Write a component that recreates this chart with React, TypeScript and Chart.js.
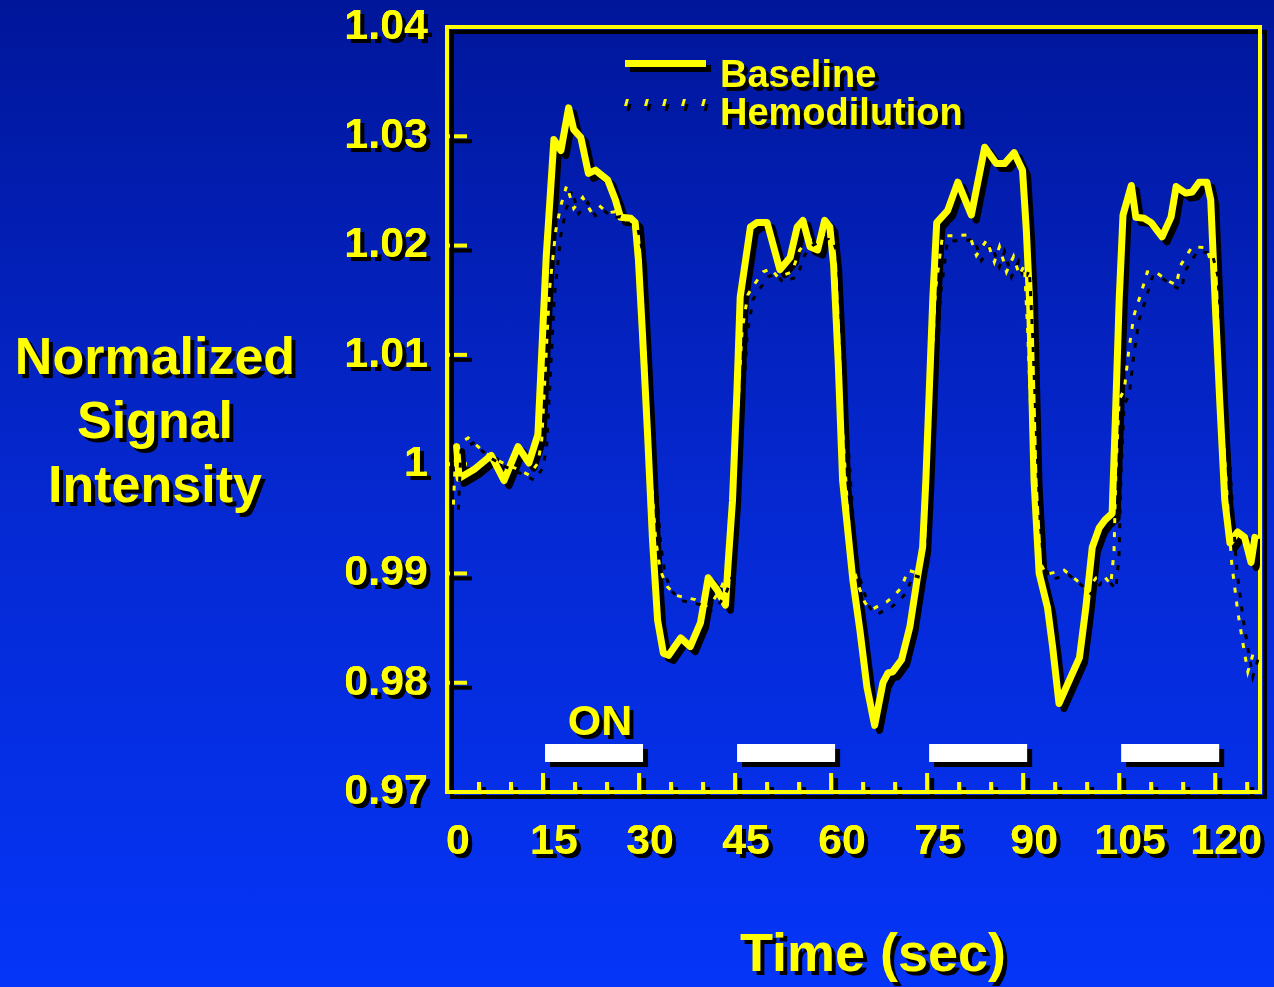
import React, { useEffect, useRef } from 'react';
import { Chart, registerables } from 'chart.js';

Chart.register(...registerables);

// ---------- data ----------
const baselineTime = [
  1.5, 1.9, 4.2, 6.9, 8.9, 11.1, 12.8, 14.2, 15.5, 16.7, 17.8, 19.0, 19.8, 20.9, 22.1, 23.2, 25.1, 26.3, 27.1, 28.7,
  29.4, 29.9, 30.5, 31.3, 32.1, 32.9, 33.8, 34.6, 36.5, 38.0, 39.6, 40.8, 42.2, 43.5, 43.9, 44.6, 45.3, 45.8, 47.4,
  48.4, 50.0, 52.0, 53.6, 54.7, 55.6, 56.7, 57.9, 59.0, 59.8, 60.4, 61.1, 61.8, 63.4, 64.5, 65.6, 66.8, 68.1, 68.9,
  69.6, 71.0, 72.3, 73.5, 74.3, 74.8, 75.4, 75.9, 76.5, 78.2, 79.8, 81.9, 84.0, 85.8, 87.1, 88.6, 89.9, 90.5, 91.0,
  91.7, 92.5, 93.8, 94.6, 95.6, 97.2, 98.8, 99.8, 100.8, 101.9, 102.8, 103.9, 104.4, 105.0, 105.6, 106.9, 107.6,
  108.9, 110.0, 111.7, 113.1, 113.9, 115.4, 116.4, 117.5, 118.7, 119.3, 120.1, 120.7, 121.5, 122.3, 123.5, 124.6,
  125.6, 126.2,
];
const baselineValue = [
  1.0016, 0.9987, 0.9995, 1.0008, 0.9985, 1.0016, 1.0001, 1.0027, 1.019, 1.0297, 1.0287, 1.0326, 1.0306, 1.0299,
  1.0266, 1.0269, 1.026, 1.0242, 1.0226, 1.0225, 1.0221, 1.0187, 1.0123, 1.0031, 0.9931, 0.9857, 0.9827, 0.9825,
  0.9841, 0.9833, 0.9855, 0.9896, 0.9885, 0.9871, 0.9908, 0.9967, 1.0068, 1.0153, 1.0217, 1.0221, 1.0221, 1.0178,
  1.0189, 1.0217, 1.0223, 1.0199, 1.0196, 1.0223, 1.0217, 1.0182, 1.0095, 0.9985, 0.9894, 0.9848, 0.9796, 0.9761,
  0.98, 0.9809, 0.981, 0.9821, 0.9851, 0.9897, 0.9924, 0.9985, 1.0077, 1.0153, 1.0221, 1.0232, 1.0258, 1.0228,
  1.029, 1.0275, 1.0275, 1.0285, 1.0269, 1.0214, 1.015, 0.9985, 0.99, 0.9869, 0.9833, 0.9781, 0.9802, 0.9823,
  0.9869, 0.9924, 0.9942, 0.9949, 0.9955, 1.004, 1.015, 1.0228, 1.0255, 1.0226, 1.0225, 1.0221, 1.0208, 1.0226,
  1.0254, 1.0248, 1.0249, 1.0258, 1.0258, 1.0242, 1.0135, 1.0059, 0.9967, 0.9928, 0.9938, 0.9933, 0.991, 0.9933,
];

const hemoTime = [
  1.0, 1.4, 3.3, 5.8, 8.4, 10.8, 12.8, 14.2, 14.8, 16.0, 17.0, 17.8, 18.7, 19.8, 21.2, 22.4, 23.7, 25.1, 26.3, 27.4,
  29.0, 29.9, 31.0, 31.8, 32.6, 33.3, 34.4, 35.7, 37.2, 38.8, 40.3, 41.4, 42.7, 43.9, 44.7, 45.5, 46.1, 47.0, 47.7,
  49.4, 50.6, 51.7, 53.9, 55.1, 56.4, 57.5, 59.4, 60.3, 60.9, 61.7, 62.5, 63.2, 64.2, 65.3, 66.4, 67.6, 68.7, 69.9,
  71.0, 72.0, 73.1, 74.1, 74.9, 75.7, 76.3, 77.4, 79.6, 81.6, 82.7, 84.3, 85.5, 86.3, 87.4, 88.5, 89.4, 90.2, 90.7,
  91.3, 91.9, 92.5, 93.6, 94.9, 96.4, 98.3, 100.0, 101.4, 102.7, 103.7, 104.2, 104.5, 105.0, 105.8, 106.5, 107.3,
  108.4, 109.4, 110.9, 112.5, 113.9, 114.6, 116.4, 118.7, 119.6, 120.3, 120.9, 121.5, 122.1, 122.6, 123.1, 123.5,
  124.0, 124.5, 125.1, 125.9, 126.3,
];
const hemoValue = [
  0.9963, 1.0017, 1.0024, 1.0011, 1.0002, 0.9996, 0.999, 1.0001, 1.0022, 1.0159, 1.0214, 1.0237, 1.0255, 1.0234,
  1.0244, 1.0232, 1.0237, 1.023, 1.0231, 1.0225, 1.0221, 1.0196, 1.0095, 0.9995, 0.9931, 0.9903, 0.9888, 0.988,
  0.9878, 0.9876, 0.987, 0.9874, 0.9885, 0.9903, 0.9967, 1.0059, 1.0123, 1.0155, 1.0162, 1.0176, 1.0179, 1.0171,
  1.0176, 1.0196, 1.0205, 1.0208, 1.0211, 1.0196, 1.0123, 1.004, 0.9967, 0.9912, 0.989, 0.9873, 0.9867, 0.9871,
  0.9874, 0.988, 0.9887, 0.9903, 0.9901, 0.9908, 0.9985, 1.0086, 1.0159, 1.0209, 1.0209, 1.021, 1.0191, 1.0205,
  1.0185, 1.0199, 1.0176, 1.019, 1.0173, 1.0182, 1.0123, 1.0031, 0.9949, 0.9912, 0.9899, 0.9901, 0.9903, 0.9894,
  0.9885, 0.9896, 0.9897, 0.989, 0.9921, 0.9995, 1.0059, 1.0068, 1.0104, 1.0136, 1.0156, 1.0176, 1.0175, 1.0168,
  1.0164, 1.0182, 1.0199, 1.0198, 1.0178, 1.0123, 1.0059, 1.0004, 0.9949, 0.9908, 0.9885, 0.9866, 0.9848, 0.983,
  0.981, 0.9826, 0.983,
];

const onStart = [15, 45, 75, 105];
const onEnd = [30, 60, 90, 120];

const xMin = 0;
const xMax = 127;
const xStep = 5;
const xLabelEvery = 15;
const yMin = 0.97;
const yMax = 1.04;
const yStep = 0.01;

const seriesNames = ['Baseline', 'Hemodilution'];
const yTitleLines = ['Normalized', 'Signal', 'Intensity'];
const xTitle = 'Time (sec)';
const onLabel = 'ON';

// ---------- styles ----------
const YELLOW = '#ffff00';
const FONT = "'Liberation Sans', Arial, Helvetica, sans-serif";
const TEXT_SHADOW = '4px 4px 0 #000';

const setShadow = (ctx: CanvasRenderingContext2D, d: number) => {
  ctx.shadowColor = '#000000';
  ctx.shadowBlur = 0;
  ctx.shadowOffsetX = d;
  ctx.shadowOffsetY = d;
};

const decorPlugin = {
  id: 'decor',
  beforeDraw(chart: any) {
    const ctx = chart.ctx;
    ctx.save();
    setShadow(ctx, 4);
  },
  beforeDatasetsDraw(chart: any) {
    const { ctx, chartArea: a, scales } = chart;
    const xs = scales.x;
    const ys = scales.y;
    // tick labels again with a hard shadow (library's own label drawing)
    ctx.save();
    setShadow(ctx, 4);
    xs.drawLabels(a);
    ys.drawLabels(a);
    ctx.restore();

    ctx.save();
    setShadow(ctx, 5);
    ctx.strokeStyle = YELLOW;
    ctx.lineWidth = 4;
    ctx.lineCap = 'butt';
    const line = (x0: number, y0: number, x1: number, y1: number) => {
      ctx.beginPath();
      ctx.moveTo(x0, y0);
      ctx.lineTo(x1, y1);
      ctx.stroke();
    };
    xs.ticks.forEach((t: any) => {
      if (t.value <= xs.min || t.value >= xs.max) return;
      const px = xs.getPixelForValue(t.value);
      const len = t.value % xLabelEvery === 0 ? 19 : 10;
      line(px, a.bottom, px, a.bottom - len);
    });
    ys.ticks.forEach((t: any) => {
      if (t.value <= ys.min + 1e-9 || t.value >= ys.max - 1e-9) return;
      const py = ys.getPixelForValue(t.value);
      line(a.left, py, a.left + 20, py);
    });
    ctx.strokeRect(a.left, a.top, a.right - a.left, a.bottom - a.top);
    ctx.fillStyle = '#ffffff';
    onStart.forEach((s, i) => {
      const x0 = xs.getPixelForValue(s) + 2;
      const x1 = xs.getPixelForValue(onEnd[i]) + 4;
      ctx.fillRect(x0, a.bottom - 48, x1 - x0, 18);
    });
    ctx.restore();
    setShadow(ctx, 5);
  },
  afterDraw(chart: any) {
    chart.ctx.restore();
  },
};

export default function App() {
  const ref = useRef<HTMLCanvasElement>(null);

  useEffect(() => {
    const canvas = ref.current;
    if (!canvas) return;
    const chart = new Chart(canvas, {
      type: 'line',
      data: {
        datasets: [
          {
            label: seriesNames[1],
            data: hemoTime.map((t, i) => ({ x: t, y: hemoValue[i] })),
            borderColor: YELLOW,
            borderWidth: 3,
            borderDash: [5, 9],
            pointRadius: 0,
            tension: 0,
            order: 0,
          },
          {
            label: seriesNames[0],
            data: baselineTime.map((t, i) => ({ x: t, y: baselineValue[i] })),
            borderColor: YELLOW,
            borderWidth: 7,
            borderJoinStyle: 'round',
            borderCapStyle: 'round',
            pointRadius: 0,
            tension: 0,
            order: 1,
          },
        ],
      },
      options: {
        animation: false,
        responsive: false,
        devicePixelRatio: 1,
        layout: { padding: { left: 0, right: 14, top: 27, bottom: 0 } },
        plugins: { legend: { display: false }, tooltip: { enabled: false }, title: { display: false } },
        scales: {
          x: {
            type: 'linear',
            min: xMin,
            max: xMax,
            grid: { display: false, drawTicks: false },
            border: { display: false },
            afterFit: (s: any) => {
              s.height = 195;
              s.paddingLeft = 0;
              s.paddingRight = 0;
            },
            ticks: {
              stepSize: xStep,
              includeBounds: false,
              autoSkip: false,
              maxRotation: 0,
              minRotation: 0,
              padding: 24,
              labelOffset: 11,
              color: YELLOW,
              font: { family: FONT, size: 43, weight: 'bold' },
              callback: (v: any) => (Number(v) % xLabelEvery === 0 ? String(v) : ''),
            },
          },
          y: {
            type: 'linear',
            min: yMin,
            max: yMax,
            grid: { display: false, drawTicks: false },
            border: { display: false },
            afterFit: (s: any) => {
              s.width = 447;
              s.paddingTop = 0;
              s.paddingBottom = 0;
            },
            ticks: {
              stepSize: yStep,
              padding: 19,
              color: YELLOW,
              font: { family: FONT, size: 43, weight: 'bold' },
              callback: (v: any) => String(Number(Number(v).toFixed(2))),
            },
          },
        },
      },
      plugins: [decorPlugin],
    } as any);
    return () => chart.destroy();
  }, []);

  const textBase: React.CSSProperties = {
    position: 'absolute',
    color: YELLOW,
    fontFamily: FONT,
    fontWeight: 'bold',
    textShadow: TEXT_SHADOW,
    whiteSpace: 'nowrap',
    lineHeight: 1,
    margin: 0,
  };

  const dotXs = [625, 645, 663, 682, 702];

  return (
    <div
      style={{
        position: 'fixed',
        left: 0,
        top: 0,
        width: 1274,
        height: 987,
        overflow: 'hidden',
        background: 'linear-gradient(to bottom, #00169a 0%, #0528d0 50%, #0535f8 100%)',
      }}
    >
      <canvas ref={ref} width={1274} height={987} style={{ position: 'absolute', left: 0, top: 0, display: 'block' }} />
      {/* Y axis title */}
      {yTitleLines.map((t, i) => (
        <div key={t} style={{ ...textBase, fontSize: 52, left: 0, width: 310, textAlign: 'center', top: 330 + i * 64 }}>
          {t}
        </div>
      ))}
      {/* X axis title */}
      <div style={{ ...textBase, fontSize: 54, left: 673, width: 400, textAlign: 'center', top: 925 }}>{xTitle}</div>
      {/* ON label */}
      <div style={{ ...textBase, fontSize: 43, left: 500, width: 200, textAlign: 'center', top: 699 }}>{onLabel}</div>
      {/* Legend */}
      <div
        style={{
          position: 'absolute',
          left: 625,
          top: 60,
          width: 81,
          height: 7,
          background: YELLOW,
          boxShadow: '5px 5px 0 #000',
        }}
      />
      {dotXs.map((x) => (
        <div
          key={x}
          style={{
            position: 'absolute',
            left: x,
            top: 99,
            width: 3,
            height: 7,
            background: YELLOW,
            transform: 'skewX(-15deg)',
            boxShadow: '4px 5px 0 #000',
          }}
        />
      ))}
      <div style={{ ...textBase, fontSize: 38, left: 720, top: 55 }}>{seriesNames[0]}</div>
      <div style={{ ...textBase, fontSize: 38, left: 720, top: 93 }}>{seriesNames[1]}</div>
    </div>
  );
}
